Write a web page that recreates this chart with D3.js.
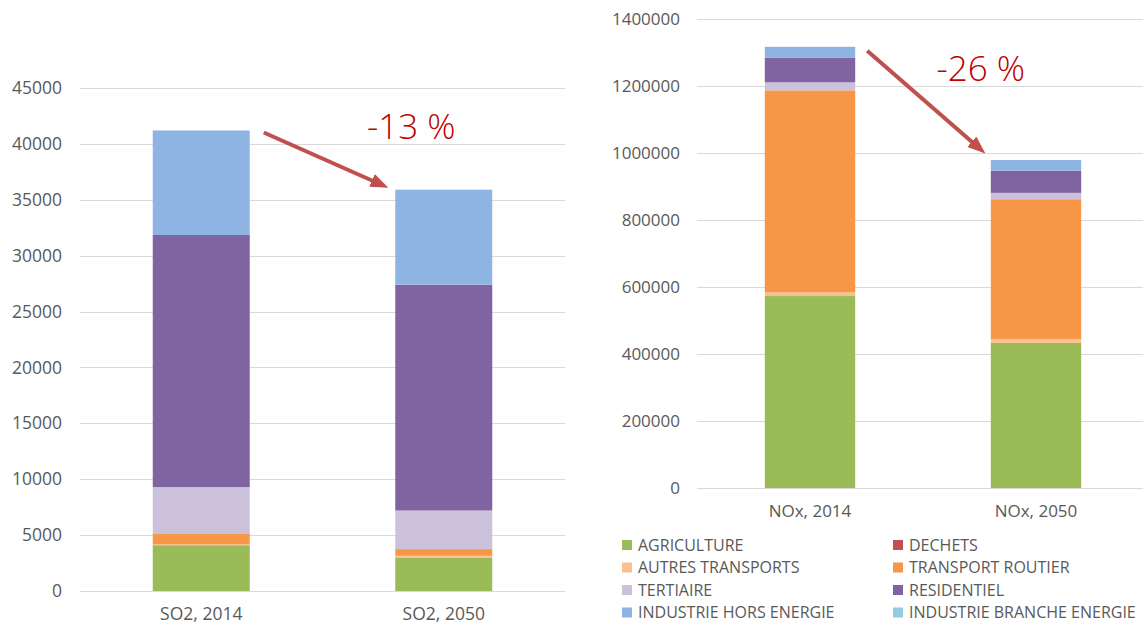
<!DOCTYPE html>
<html>
<head>
<meta charset="utf-8">
<script src="https://cdn.jsdelivr.net/npm/d3@7"></script>
<style>
  body { margin: 0; background: #fff; }
  svg { display: block; font-family: "Open Sans", sans-serif; }
</style>
</head>
<body>
<div id="chart"></div>
<script>
// sectors, bottom to top of each stack (legend reads row by row)
const sectors = ["AGRICULTURE", "DECHETS", "AUTRES TRANSPORTS", "TRANSPORT ROUTIER",
                 "TERTIAIRE", "RESIDENTIEL", "INDUSTRIE HORS ENERGIE", "INDUSTRIE BRANCHE ENERGIE"];
const sectorColors = ["#9bbb59", "#c0504d", "#fac090", "#f79646",
                      "#ccc1da", "#8064a2", "#8eb4e3", "#93cddd"];

const so2Bars = ["SO2, 2014", "SO2, 2050"];
const so2_2014 = [4100, 0, 100, 900, 4200, 22550, 9350, 0];
const so2_2050 = [3000, 0, 150, 600, 3450, 20200, 8500, 0];
const so2Ticks = [0, 5000, 10000, 15000, 20000, 25000, 30000, 35000, 40000, 45000];

const noxBars = ["NOx, 2014", "NOx, 2050"];
const nox_2014 = [573000, 0, 12000, 602000, 24000, 73000, 33000, 0];
const nox_2050 = [433000, 0, 12000, 417000, 19000, 66000, 32000, 0];
const noxTicks = [0, 200000, 400000, 600000, 800000, 1000000, 1200000, 1400000];

const changeLabels = ["-13 %", "-26 %"];

const width = 1143, height = 625;
const textColor = "#595959";

const svg = d3.select("#chart")
    .append("svg")
    .attr("width", width)
    .attr("height", height);

const defs = svg.append("defs");
defs.append("marker")
    .attr("id", "arrow")
    .attr("markerUnits", "userSpaceOnUse")
    .attr("viewBox", "0 0 18 14")
    .attr("markerWidth", 18)
    .attr("markerHeight", 14)
    .attr("refX", 8)
    .attr("refY", 7)
    .attr("orient", "auto")
    .append("path")
    .attr("d", "M0,0L18,7L0,14Z")
    .attr("fill", "#c0504d");

function drawPanel(p) {
    const rows = p.bars.map((b, i) => {
        const row = { bar: b };
        sectors.forEach((s, j) => row[s] = p.values[i][j]);
        return row;
    });
    const series = d3.stack().keys(sectors)(rows);

    const x = d3.scaleBand()
        .domain(p.bars)
        .range([p.x0, p.x1])
        .paddingInner(0.6)
        .paddingOuter(0.3);

    const y = d3.scaleLinear()
        .domain([0, d3.max(p.ticks)])
        .range([p.y0, p.y1]);

    const g = svg.append("g");

    // gridlines
    g.append("g")
        .selectAll("line")
        .data(p.ticks)
        .join("line")
        .attr("x1", p.x0)
        .attr("x2", p.x1)
        .attr("y1", d => Math.round(y(d)) + 0.5)
        .attr("y2", d => Math.round(y(d)) + 0.5)
        .attr("stroke", "#d9d9d9")
        .attr("stroke-width", 1);

    const yAxis = d3.axisLeft(y)
        .tickValues(p.ticks)
        .tickFormat(d3.format("d"))
        .tickSize(0)
        .tickPadding(p.yPad);

    g.append("g")
        .attr("transform", "translate(" + p.x0 + ",0)")
        .call(yAxis)
        .call(a => a.select(".domain").remove())
        .selectAll("text")
        .attr("fill", textColor)
        .style("font-size", p.fontSize + "px")
        .style("font-family", "'Open Sans', sans-serif");

    // stacked bars
    g.append("g")
        .selectAll("g")
        .data(series)
        .join("g")
        .attr("fill", (d, i) => sectorColors[i])
        .selectAll("rect")
        .data(d => d)
        .join("rect")
        .attr("x", d => x(d.data.bar))
        .attr("width", x.bandwidth())
        .attr("y", d => y(d[1]))
        .attr("height", d => y(d[0]) - y(d[1]));

    const xAxis = d3.axisBottom(x)
        .tickSize(0)
        .tickPadding(p.xPad);

    g.append("g")
        .attr("transform", "translate(0," + p.y0 + ")")
        .call(xAxis)
        .call(a => a.select(".domain").remove())
        .selectAll("text")
        .attr("fill", textColor)
        .style("font-size", p.fontSize + "px")
        .style("font-family", "'Open Sans', sans-serif");

    // change arrow + label
    const totals = p.values.map(v => d3.sum(v));
    const a = p.arrow;
    g.append("line")
        .attr("x1", x(p.bars[0]) + x.bandwidth() + a.dx0)
        .attr("y1", y(totals[0]) + a.dy0)
        .attr("x2", x(p.bars[1]) + a.dx1)
        .attr("y2", y(totals[1]) + a.dy1)
        .attr("stroke", "#c0504d")
        .attr("stroke-width", 4)
        .attr("marker-end", "url(#arrow)");

    g.append("text")
        .attr("x", x(p.bars[1]) + a.lx)
        .attr("y", y(totals[1]) + a.ly)
        .attr("text-anchor", "middle")
        .attr("fill", "#c00000")
        .style("font-size", "35px")
        .style("font-weight", 300)
        .text(p.change);
}

drawPanel({
    bars: so2Bars, values: [so2_2014, so2_2050], ticks: so2Ticks,
    x0: 80, x1: 565, y0: 591, y1: 88, fontSize: 17.5, yPad: 18, xPad: 17,
    change: changeLabels[0],
    arrow: { dx0: 14, dy0: 2, dx1: -16, dy1: -6, lx: 16, ly: -51 }
});

drawPanel({
    bars: noxBars, values: [nox_2014, nox_2050], ticks: noxTicks,
    x0: 697, x1: 1149, y0: 488, y1: 19, fontSize: 17, yPad: 17, xPad: 17,
    change: changeLabels[1],
    arrow: { dx0: 12, dy0: 4, dx1: -13, dy1: -13, lx: -10, ly: -79 }
});

// legend, two columns, read row by row
const legend = svg.append("g")
    .selectAll("g")
    .data(sectors)
    .join("g")
    .attr("transform", (d, i) => "translate(" + (i % 2 === 0 ? 622 : 893) + "," + (545 + Math.floor(i / 2) * 22.5) + ")");

legend.append("rect")
    .attr("x", 0)
    .attr("y", -5)
    .attr("width", 10)
    .attr("height", 10)
    .attr("fill", (d, i) => sectorColors[i]);

legend.append("text")
    .attr("x", 16)
    .attr("dy", "0.35em")
    .attr("fill", textColor)
    .style("font-size", "16px")
    .text(d => d);
</script>
</body>
</html>
